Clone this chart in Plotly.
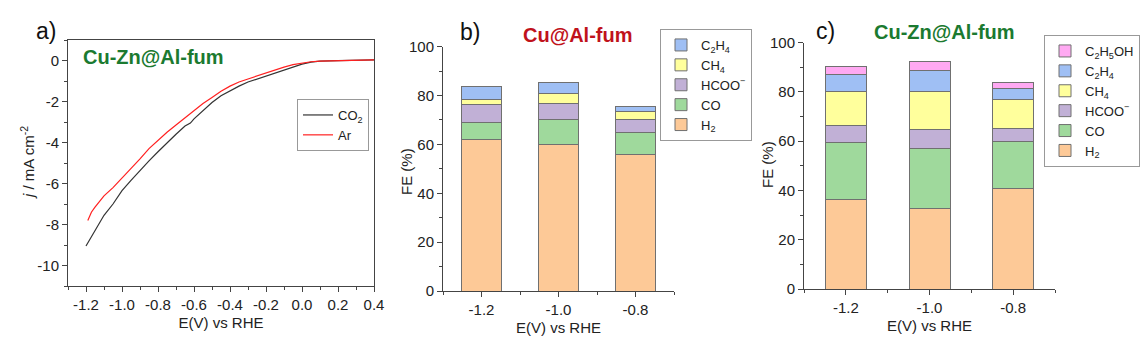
import plotly.graph_objects as go

# ---------------- data ----------------
# panel a: LSV curves
e_co2 = [-1.20, -1.15, -1.10, -1.05, -1.00, -0.95, -0.90, -0.85, -0.80, -0.75, -0.70, -0.65,
         -0.62, -0.60, -0.55, -0.50, -0.45, -0.40, -0.35, -0.30, -0.25, -0.20, -0.15, -0.10,
         -0.05, 0.00, 0.05, 0.10, 0.20, 0.30, 0.35, 0.40]
j_co2 = [-9.05, -8.3, -7.55, -7.0, -6.35, -5.85, -5.35, -4.9, -4.45, -4.0, -3.6, -3.2,
         -3.05, -2.85, -2.45, -2.05, -1.72, -1.47, -1.25, -1.05, -0.9, -0.75, -0.6, -0.45,
         -0.3, -0.18, -0.08, -0.03, -0.01, 0.0, 0.0, 0.03]
e_ar = [-1.19, -1.17, -1.15, -1.10, -1.05, -1.00, -0.95, -0.90, -0.85, -0.80, -0.75, -0.70,
        -0.65, -0.60, -0.55, -0.50, -0.45, -0.40, -0.35, -0.30, -0.25, -0.20, -0.15, -0.10,
        -0.05, 0.00, 0.05, 0.10, 0.20, 0.30, 0.40]
j_ar = [-7.8, -7.4, -7.15, -6.6, -6.2, -5.75, -5.25, -4.8, -4.3, -3.9, -3.5, -3.15,
        -2.8, -2.45, -2.1, -1.8, -1.5, -1.25, -1.05, -0.9, -0.75, -0.6, -0.45, -0.32,
        -0.2, -0.12, -0.06, -0.03, -0.01, 0.0, 0.03]

# panels b, c: Faradaic efficiencies
potentials = [-1.2, -1.0, -0.8]
b_H2 = [62.0, 60.0, 56.0]
b_CO = [7.0, 10.3, 9.0]
b_HCOO = [7.4, 6.3, 5.2]
b_CH4 = [2.0, 4.1, 3.3]
b_C2H4 = [5.2, 4.6, 2.2]

c_H2 = [36.3, 32.5, 40.9]
c_CO = [23.0, 24.6, 19.0]
c_HCOO = [6.9, 7.7, 5.3]
c_CH4 = [13.8, 15.4, 11.8]
c_C2H4 = [7.1, 8.7, 4.6]
c_C2H5OH = [3.2, 3.5, 2.4]

xa_ticks = [-1.2, -1.0, -0.8, -0.6, -0.4, -0.2, 0.0, 0.2, 0.4]
xa_labels = ["-1.2", "-1.0", "-0.8", "-0.6", "-0.4", "-0.2", "0.0", "0.2", "0.4"]
ya_ticks = [0, -2, -4, -6, -8, -10]
ya_labels = ["0", "-2", "-4", "-6", "-8", "-10"]
xb_labels = ["-1.2", "-1.0", "-0.8"]
fe_ticks = [0, 20, 40, 60, 80, 100]

names = {
    "H2": "H<sub>2</sub>", "CO": "CO", "HCOO": "HCOO<sup>−</sup>",
    "CH4": "CH<sub>4</sub>", "C2H4": "C<sub>2</sub>H<sub>4</sub>",
    "C2H5OH": "C<sub>2</sub>H<sub>5</sub>OH",
}
colors = {
    "H2": "#FDC997", "CO": "#9FD99C", "HCOO": "#C1B0D6",
    "CH4": "#FFFF9C", "C2H4": "#9FBFF4", "C2H5OH": "#FFA9F2",
}

FONT = "Arial, Liberation Sans, sans-serif"
fig = go.Figure()

# ---- panel a ----
fig.add_trace(go.Scatter(x=e_co2, y=j_co2, mode="lines", name="CO<sub>2</sub>",
                         line=dict(color="#333333", width=1.2), xaxis="x", yaxis="y",
                         legend="legend"))
fig.add_trace(go.Scatter(x=e_ar, y=j_ar, mode="lines", name="Ar",
                         line=dict(color="#FF2020", width=1.2), xaxis="x", yaxis="y",
                         legend="legend"))

# ---- panel b ----
for key, vals in [("H2", b_H2), ("CO", b_CO), ("HCOO", b_HCOO), ("CH4", b_CH4), ("C2H4", b_C2H4)]:
    fig.add_trace(go.Bar(x=potentials, y=vals, name=names[key], width=0.104,
                         marker=dict(color=colors[key], line=dict(color="#707070", width=1)),
                         xaxis="x2", yaxis="y2", legend="legend2"))

# ---- panel c ----
for key, vals in [("H2", c_H2), ("CO", c_CO), ("HCOO", c_HCOO), ("CH4", c_CH4),
                  ("C2H4", c_C2H4), ("C2H5OH", c_C2H5OH)]:
    fig.add_trace(go.Bar(x=potentials, y=vals, name=names[key], width=0.098,
                         marker=dict(color=colors[key], line=dict(color="#707070", width=1)),
                         xaxis="x3", yaxis="y3", legend="legend3"))

W, H = 1146, 354
def dx(a, b):
    return [a / W, b / W]
def dy(top, bottom):
    return [(H - bottom) / H, (H - top) / H]

axis_common = dict(showline=True, linecolor="#444444", linewidth=1, ticks="outside",
                   ticklen=5, tickcolor="#444444", showgrid=False, zeroline=False,
                   automargin=False,
                   tickfont=dict(size=15, color="#222222", family=FONT))

tfont = dict(size=15, color="#222222", family=FONT)
minor_c = "#444444"

fig.update_layout(
    width=W, height=H, margin=dict(l=0, r=0, t=0, b=0, autoexpand=False),
    paper_bgcolor="white", plot_bgcolor="white",
    barmode="stack", font=dict(family=FONT, color="#222222"),
    xaxis=dict(domain=dx(68, 374), range=[-1.3, 0.4], tickvals=xa_ticks, ticktext=xa_labels,
               mirror=True, anchor="y", ticklabelstandoff=0,
               minor=dict(ticks="outside", ticklen=3, dtick=0.1, tick0=0, tickcolor=minor_c),
               title=dict(text="E(V) vs RHE", font=tfont, standoff=5), **axis_common),
    yaxis=dict(domain=dy(40, 286), range=[-11, 1], tickvals=ya_ticks, ticktext=ya_labels,
               mirror=True, anchor="x",
               minor=dict(ticks="outside", ticklen=3, dtick=1, tick0=0, tickcolor=minor_c),
               **axis_common),
    xaxis2=dict(domain=dx(443, 674), range=[-1.3, -0.7], tickvals=potentials,
                ticktext=xb_labels, anchor="y2", ticklabelstandoff=0,
                minor=dict(ticks="outside", ticklen=3, dtick=0.1, tick0=-1.3, tickcolor=minor_c),
                title=dict(text="E(V) vs RHE", font=tfont, standoff=5), **axis_common),
    yaxis2=dict(domain=dy(46.7, 291), range=[0, 100], tickvals=fe_ticks, anchor="x2",
                minor=dict(ticks="outside", ticklen=3, dtick=10, tick0=0, tickcolor=minor_c),
                **axis_common),
    xaxis3=dict(domain=dx(804, 1055), range=[-1.3, -0.7], tickvals=potentials,
                ticktext=xb_labels, anchor="y3", ticklabelstandoff=0,
                minor=dict(ticks="outside", ticklen=3, dtick=0.1, tick0=-1.3, tickcolor=minor_c),
                title=dict(text="E(V) vs RHE", font=tfont, standoff=5), **axis_common),
    yaxis3=dict(domain=dy(42.7, 289), range=[0, 100], tickvals=fe_ticks, anchor="x3",
                minor=dict(ticks="outside", ticklen=3, dtick=10, tick0=0, tickcolor=minor_c),
                **axis_common),
    legend=dict(x=297 / W, y=(H - 99) / H, xanchor="left", yanchor="top",
                bordercolor="#999999", borderwidth=1, bgcolor="white",
                font=dict(size=13, family=FONT, color="#222222"),
                tracegroupgap=0, traceorder="normal", itemwidth=30),
    legend2=dict(x=660 / W, y=(H - 29) / H, xanchor="left", yanchor="top",
                 bordercolor="#999999", borderwidth=1, bgcolor="white",
                 font=dict(size=13, family=FONT, color="#222222"),
                 tracegroupgap=0, traceorder="reversed", itemwidth=30),
    legend3=dict(x=1044 / W, y=(H - 35) / H, xanchor="left", yanchor="top",
                 bordercolor="#999999", borderwidth=1, bgcolor="white",
                 font=dict(size=13, family=FONT, color="#222222"),
                 tracegroupgap=0, traceorder="reversed", itemwidth=30),
    showlegend=True,
)

ann = [
    dict(text="a)", x=34, y=31, font=dict(size=23, color="#111111")),
    dict(text="<b>Cu-Zn@Al-fum</b>", x=81, y=57, font=dict(size=20, color="#1B7A30")),
    dict(text="b)", x=458, y=32, font=dict(size=23, color="#111111")),
    dict(text="<b>Cu@Al-fum</b>", x=521, y=35, font=dict(size=20, color="#C0121B")),
    dict(text="c)", x=814, y=31, font=dict(size=23, color="#111111")),
    dict(text="<b>Cu-Zn@Al-fum</b>", x=872, y=32, font=dict(size=20, color="#1B7A30")),
]
for a in ann:
    fig.add_annotation(xref="paper", yref="paper", showarrow=False, xanchor="left",
                       yanchor="middle", text=a["text"], x=a["x"] / W, y=(H - a["y"]) / H,
                       font=dict(family=FONT, **a["font"]))

# rotated y-axis titles
ytitles = [
    ("<i>j</i> / mA cm<sup>-2</sup>", 27, 163),
    ("FE (%)", 406, 172),
    ("FE (%)", 767, 165),
]
for txt, cx, cy in ytitles:
    fig.add_annotation(xref="paper", yref="paper", showarrow=False, xanchor="center",
                       yanchor="middle", textangle=-90, text=txt, x=cx / W, y=(H - cy) / H,
                       font=tfont)

fig.write_html("out.html")
